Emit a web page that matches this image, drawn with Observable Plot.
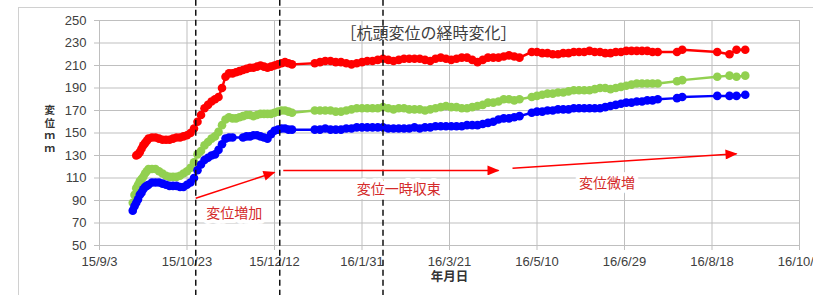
<!DOCTYPE html>
<html><head><meta charset="utf-8">
<script src="https://cdn.jsdelivr.net/npm/d3@7"></script>
<script src="https://cdn.jsdelivr.net/npm/@observablehq/plot@0.6"></script>
<style>
html,body{margin:0;padding:0;background:#fff;}
#wrap{position:relative;width:813px;height:295px;overflow:hidden;background:#fff;}
#box{position:absolute;left:18px;top:7px;width:820px;height:300px;border-left:1px solid #d0d0d0;border-top:1px solid #d0d0d0;}
#chart{position:absolute;left:0;top:0;}
</style></head><body>
<div id="wrap"><div id="box"></div><div id="chart"></div></div>
<script>
// ---- data ----
const dates = [
"2015-09-22","2015-09-23","2015-09-24","2015-09-25","2015-09-26","2015-09-27","2015-09-28","2015-09-29","2015-09-30","2015-10-01",
"2015-10-03","2015-10-05","2015-10-07","2015-10-09","2015-10-11","2015-10-13","2015-10-15","2015-10-17","2015-10-19","2015-10-21",
"2015-10-23","2015-10-25","2015-10-27","2015-10-29","2015-10-31","2015-11-02","2015-11-04","2015-11-06","2015-11-08","2015-11-10",
"2015-11-12","2015-11-14","2015-11-16","2015-11-18","2015-11-20","2015-11-22","2015-11-24","2015-11-26","2015-11-28","2015-11-30",
"2015-12-02","2015-12-04","2015-12-06","2015-12-08","2015-12-10","2015-12-12","2015-12-14","2015-12-16","2015-12-18","2015-12-20",
"2015-12-22",
"2016-01-04","2016-01-07","2016-01-10","2016-01-13","2016-01-16","2016-01-19","2016-01-22","2016-01-25","2016-01-28","2016-01-31",
"2016-02-03","2016-02-06","2016-02-09","2016-02-12","2016-02-15","2016-02-18","2016-02-21","2016-02-24","2016-02-27","2016-03-01",
"2016-03-04","2016-03-07","2016-03-10","2016-03-13","2016-03-16","2016-03-19","2016-03-22","2016-03-25","2016-03-28","2016-03-31",
"2016-04-03","2016-04-06","2016-04-09","2016-04-12","2016-04-15","2016-04-18","2016-04-21","2016-04-24","2016-04-27","2016-04-30",
"2016-05-07","2016-05-10","2016-05-13","2016-05-16","2016-05-19","2016-05-22","2016-05-25","2016-05-28","2016-05-31","2016-06-03",
"2016-06-06","2016-06-09","2016-06-12","2016-06-15","2016-06-18","2016-06-21","2016-06-24","2016-06-27","2016-06-30","2016-07-03",
"2016-07-06","2016-07-09","2016-07-12","2016-07-15","2016-07-18",
"2016-07-29","2016-08-01","2016-08-21","2016-08-28","2016-09-01","2016-09-06"
];
const red = [
null,null,130,131,133,136,139,141,143,145,
146,146,145,144,144,144,145,146,146,147,
148,150,154,160,166,172,175,178,180,182,
190,200,203,203,204,205,206,207,208,208,
209,210,209,208,209,210,211,212,213,212,
211,
212,213,214,214,213,213,212,211,212,213,
214,214,215,216,215,214,215,216,216,216,
216,215,214,216,217,216,215,216,217,217,
215,213,215,217,217,217,218,219,218,217,
222,222,221,221,220,220,221,221,222,222,
222,223,222,222,221,221,222,222,223,223,
223,223,223,222,222,
222,224,222,220,224,224
];
const green = [
88,95,101,104,107,109,111,114,116,118,
118,118,116,114,112,111,111,111,112,114,
116,119,124,131,134,139,142,145,147,151,
157,162,164,163,163,164,165,166,166,165,
166,167,167,167,167,168,169,170,170,169,
168,
170,170,170,170,169,169,170,171,172,172,
172,172,172,173,172,171,172,172,171,171,
171,170,171,172,173,174,173,173,172,172,
173,174,175,177,177,178,180,180,179,180,
182,183,184,185,185,186,186,187,188,188,
188,188,189,190,190,189,190,191,192,193,
194,194,194,194,194,
196,197,200,201,200,201
];
const blue = [
81,85,88,91,95,97,100,102,103,104,
106,106,106,105,104,103,103,103,102,102,
104,106,110,117,122,126,128,130,131,135,
140,145,146,146,null,null,146,147,147,148,
148,147,146,145,149,152,153,154,154,153,
153,
153,153,154,153,153,153,154,154,155,155,
155,155,155,155,154,154,154,154,154,155,
154,155,155,156,156,156,156,156,156,157,
157,157,158,159,160,162,163,163,164,165,
168,169,169,170,170,171,171,171,172,172,
172,172,172,172,173,174,175,176,177,177,
178,178,179,179,180,
181,182,183,183,183,184
];
const seriesNames = ["S1", "S2", "S3"];
const seriesColors = ["#ff0000", "#92d050", "#0000ff"];
const tickDates = ["2015-09-03","2015-10-23","2015-12-12","2016-01-31","2016-03-21","2016-05-10","2016-06-29","2016-08-18","2016-10-07"];
const yTicks = [50,70,90,110,130,150,170,190,210,230,250];
const phaseDates = ["2015-10-28","2015-12-15","2016-02-12"];
const arrows = [
  {x1:"2015-10-28", y1:92, x2:"2015-12-12", y2:115},
  {x1:"2015-12-17", y1:116.7, x2:"2016-04-18", y2:116.7},
  {x1:"2016-04-26", y1:118.7, x2:"2016-09-01", y2:131.5}
];
const notes = [
  {x:"2015-11-19", y:78.5, text:"変位増加"},
  {x:"2016-02-21", y:100, text:"変位一時収束"},
  {x:"2016-06-19", y:105.5, text:"変位微増"}
];
const title = {x:"2016-03-09", y:238.5, text:"［杭頭変位の経時変化］"};
const xLabel = "年月日";
const yLabel = "変\n位\nｍ\nｍ";

// ---- build ----
const P = d3.utcParse("%Y-%m-%d");
const valuesBySeries = [red, green, blue];
const rows = [];
seriesNames.forEach((s, i) => dates.forEach((d, j) => {
  const v = valuesBySeries[i][j];
  if (v != null) rows.push({series: s, date: P(d), value: v});
}));
const tDates = tickDates.map(P);
const cjk = "'Noto Sans CJK JP', sans-serif";

const chart = Plot.plot({
  width: 813, height: 295,
  marginLeft: 99, marginRight: 14, marginTop: 20, marginBottom: 50,
  style: {fontFamily: "'Liberation Sans', Arial, sans-serif", fontSize: "13px", background: "transparent", overflow: "visible"},
  x: {type: "utc", domain: [tDates[0], tDates[tDates.length - 1]]},
  y: {domain: [50, 250]},
  color: {domain: seriesNames, range: seriesColors},
  marks: [
    Plot.gridX(tDates, {stroke: "#bfbfbf", strokeOpacity: 1}),
    Plot.gridY(yTicks, {stroke: "#bfbfbf", strokeOpacity: 1}),
    Plot.axisY(yTicks, {tickSize: 5, tickPadding: 8, stroke: "#bfbfbf", fill: "#404040", label: null}),
    Plot.axisX(tDates, {tickSize: 5, tickPadding: 6, stroke: "#bfbfbf", fill: "#404040", label: null, tickFormat: d3.utcFormat("%y/%-m/%-d")}),
    Plot.line(rows, {x: "date", y: "value", z: "series", stroke: "series", strokeWidth: 2.5}),
    Plot.dot(rows, {x: "date", y: "value", fill: "series", r: 4.3}),
    Plot.ruleX(phaseDates.map(P), {y1: 5, y2: 269, stroke: "#111", strokeWidth: 1.5, strokeDasharray: "6,4"}),
    Plot.link(arrows, {x1: d => P(d.x1), y1: "y1", x2: d => P(d.x2), y2: "y2", stroke: "#ff0000", strokeWidth: 1.5}),
    Plot.text(notes, {x: d => P(d.x), y: "y", text: "text", fill: "#d42a2a", stroke: "white", strokeWidth: 8, fontSize: 14, fontFamily: cjk}),
    Plot.text([title], {x: d => P(d.x), y: "y", text: "text", fill: "#404040", fontSize: 16, fontFamily: cjk}),
    Plot.text([xLabel], {frameAnchor: "bottom", dy: 35, text: d => d, fill: "#333", fontWeight: "bold", fontSize: 12.5, fontFamily: cjk}),
    Plot.text([yLabel], {frameAnchor: "left", dx: -55, dy: -4, text: d => d, fill: "#333", fontWeight: "bold", fontSize: 10.5, lineHeight: 1.2, fontFamily: cjk})
  ]
});

// filled arrowheads for the annotation arrows
const ns = "http://www.w3.org/2000/svg";
const defs = document.createElementNS(ns, "defs");
defs.innerHTML = '<marker id="ah" viewBox="0 0 12 10" refX="11" refY="5" markerUnits="userSpaceOnUse" markerWidth="13" markerHeight="10" orient="auto"><path d="M0,0L12,5L0,10z" fill="#ff0000"/></marker>';
chart.prepend(defs);
chart.querySelectorAll('g[aria-label="link"] path').forEach(p => p.setAttribute("marker-end", "url(#ah)"));

document.getElementById("chart").append(chart);
</script>
</body></html>
